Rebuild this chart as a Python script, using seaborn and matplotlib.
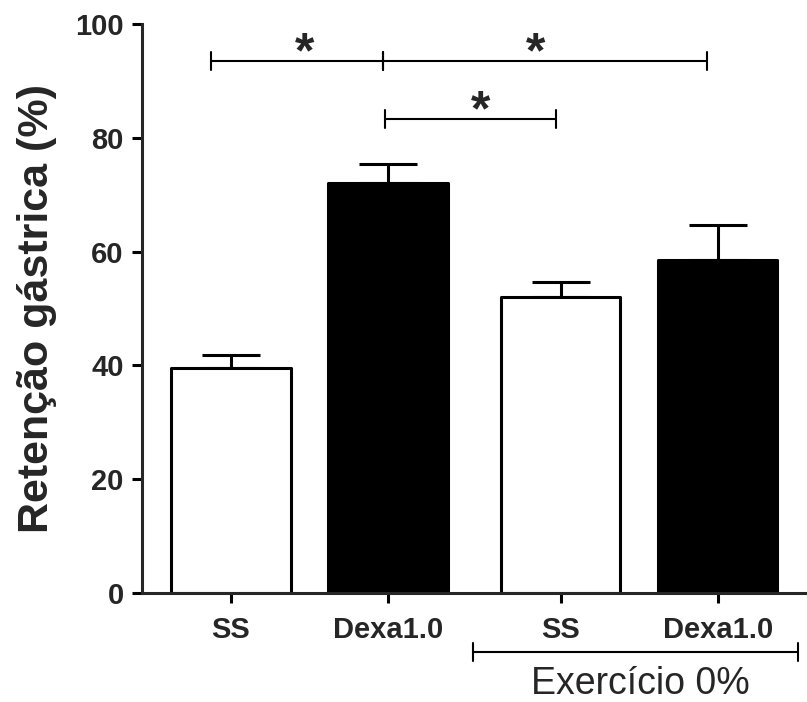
import numpy as np
import pandas as pd
import matplotlib
matplotlib.use("Agg")
import matplotlib.pyplot as plt
import seaborn as sns

# ---- data ----
labels = ["SS", "Dexa1.0", "SS", "Dexa1.0"]
groups = ["SS", "Dexa", "SS", "Dexa"]
positions = [0.0, 1.0, 2.1, 3.1]
means = [39.6, 72.0, 52.1, 58.5]
sems = [2.2, 3.4, 2.5, 6.1]
yticks = [0, 20, 40, 60, 80, 100]
ylabel = "Retenção gástrica (%)"
group_label = "Exercício 0%"
# significance brackets: (x_start, x_end, y, star_x)
sig_brackets = [(-0.13, 0.97, 93.5, 0.47), (0.97, 3.03, 93.5, 1.94), (0.98, 2.07, 83.3, 1.59)]

sns.set_style("ticks")
plt.rcParams["font.family"] = ["Liberation Sans", "DejaVu Sans"]

df = pd.DataFrame({"pos": positions, "mean": means, "group": groups})

fig = plt.figure(figsize=(8.07, 7.02), dpi=100)
ax = fig.add_axes([142 / 807, 109 / 702, 665 / 807, 569 / 702])

lw = 2.2
sns.barplot(data=df, x="pos", y="mean", hue="group",
            palette={"SS": "white", "Dexa": "black"},
            native_scale=True, dodge=False, width=0.76,
            edgecolor="black", linewidth=lw, errorbar=None,
            legend=False, ax=ax)
for p in ax.patches:
    p.set_joinstyle("round")
    p.set_zorder(2)

ax.errorbar(positions, means, yerr=[np.zeros(len(sems)), sems], fmt="none",
            ecolor="black", elinewidth=lw, capsize=21, capthick=lw, zorder=1)

ax.set_xlim(-0.567, 3.669)
ax.set_ylim(0, 100)
ax.set_yticks(yticks)
ax.set_yticklabels([str(v) for v in yticks], fontsize=21, fontweight="bold")
ax.set_xticks(positions)
ax.set_xticklabels(labels, fontsize=21, fontweight="bold")
ax.set_xlabel("")
ax.set_ylabel(ylabel, fontsize=31, fontweight="bold")
ax.yaxis.set_label_coords(-0.128, 0.5)

for s in ["top", "right"]:
    ax.spines[s].set_visible(False)
for s in ["left", "bottom"]:
    ax.spines[s].set_linewidth(lw)
    ax.spines[s].set_capstyle("projecting")
ax.tick_params(axis="both", direction="out", length=7.2, width=lw, color="black")
ax.tick_params(axis="y", pad=6)
ax.tick_params(axis="x", pad=9)

# significance brackets
blw = 1.5
for x0, x1, y, sx in sig_brackets:
    ax.plot([x0, x1], [y, y], color="black", lw=blw, clip_on=False)
    for xe in (x0, x1):
        ax.plot([xe, xe], [y - 1.6, y + 1.6], color="black", lw=blw, clip_on=False)
    ax.text(sx, y - 2.9, "*", ha="center", va="bottom", fontsize=36,
            fontweight="bold", clip_on=False)

# group bracket below the axis
trans = ax.get_xaxis_transform()
gx0, gx1, gy = 1.541, 3.611, -0.1037
ax.plot([gx0, gx1], [gy, gy], color="black", lw=blw, transform=trans, clip_on=False)
for xe in (gx0, gx1):
    ax.plot([xe, xe], [gy - 0.016, gy + 0.016], color="black", lw=blw,
            transform=trans, clip_on=False)
ax.text(2.61, -0.178, group_label, ha="center", va="baseline", fontsize=27,
        transform=trans)

fig.savefig("out.png", dpi=100)
